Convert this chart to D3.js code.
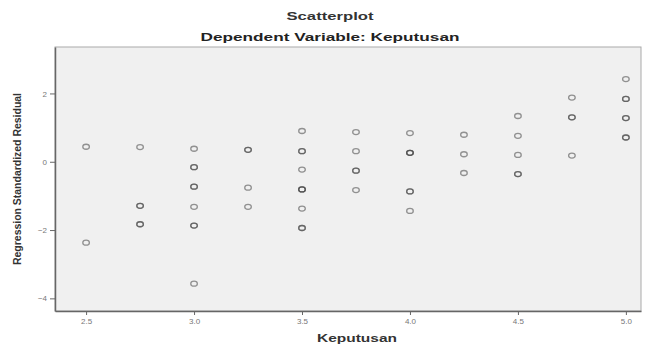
<!DOCTYPE html>
<html>
<head>
<meta charset="utf-8">
<script src="https://cdn.jsdelivr.net/npm/d3@7"></script>
<style>
  body { margin: 0; background: #fff; }
  text { font-family: "Liberation Sans", Arial, sans-serif; }
</style>
</head>
<body>
<div id="chart"></div>
<script>
// predicted values (x) and standardized residuals (y)
var keputusan = [
  2.5, 2.5,
  2.75, 2.75, 2.75,
  3.0, 3.0, 3.0, 3.0, 3.0, 3.0,
  3.25, 3.25, 3.25,
  3.5, 3.5, 3.5, 3.5, 3.5, 3.5,
  3.75, 3.75, 3.75, 3.75,
  4.0, 4.0, 4.0, 4.0,
  4.25, 4.25, 4.25,
  4.5, 4.5, 4.5, 4.5,
  4.75, 4.75, 4.75,
  5.0, 5.0, 5.0, 5.0
];
var residual = [
  0.44, -2.37,
  0.43, -1.29, -1.83,
  0.38, -0.16, -0.73, -1.32, -1.87, -3.57,
  0.35, -0.76, -1.32,
  0.90, 0.31, -0.23, -0.81, -1.37, -1.94,
  0.87, 0.31, -0.26, -0.83,
  0.84, 0.26, -0.87, -1.44,
  0.79, 0.22, -0.33,
  1.34, 0.76, 0.20, -0.36,
  1.88, 1.30, 0.18,
  2.42, 1.84, 1.28, 0.71
];
// number of cases sharing each point (darker marks)
var cases = [
  1, 1,
  1, 2, 2,
  1, 2, 2, 1, 2, 1,
  2, 1, 1,
  1, 2, 1, 3, 1, 2,
  1, 1, 2, 1,
  1, 3, 2, 1,
  1, 1, 1,
  1, 1, 1, 2,
  1, 2, 1,
  1, 2, 2, 2
];
var xTicks = [2.5, 3.0, 3.5, 4.0, 4.5, 5.0];
var yTicks = [2, 0, -2, -4];

var data = [];
keputusan.forEach(function (k, i) {
    for (var c = 0; c < cases[i]; c++) data.push({x: k, y: residual[i]});
});

var W = 647, H = 344;
var margin = {top: 47, right: 6, bottom: 33, left: 55},
    width = W - margin.left - margin.right,
    height = H - margin.top - margin.bottom;

var svg = d3.select('#chart').append('svg')
    .attr('width', W)
    .attr('height', H);

// titles
svg.append('text')
    .attr('x', 330).attr('y', 20)
    .attr('text-anchor', 'middle')
    .style('font-size', '11px').style('font-weight', 'bold').style('fill', '#333')
    .attr('textLength', 87).attr('lengthAdjust', 'spacingAndGlyphs')
    .text('Scatterplot');
svg.append('text')
    .attr('x', 330).attr('y', 41)
    .attr('text-anchor', 'middle')
    .style('font-size', '11px').style('font-weight', 'bold').style('fill', '#222')
    .attr('textLength', 259).attr('lengthAdjust', 'spacingAndGlyphs')
    .text('Dependent Variable: Keputusan');

var g = svg.append('g')
    .attr('transform', 'translate(' + margin.left + ',' + margin.top + ')');

var x = d3.scaleLinear().domain([2.356, 5.07]).range([0, width]);
var y = d3.scaleLinear().domain([-4.37, 3.36]).range([height, 0]);

// plot background
g.append('rect')
    .attr('width', width).attr('height', height)
    .attr('fill', '#f0f0f0')
    .attr('stroke', '#aaa');

// axes
var xAxis = g.append('g')
    .attr('transform', 'translate(0,' + height + ')')
    .call(d3.axisBottom(x).tickValues(xTicks).tickFormat(d3.format('.1f')).tickSize(4).tickSizeOuter(0));
var yAxis = g.append('g')
    .call(d3.axisLeft(y).tickValues(yTicks).tickFormat(d3.format('d')).tickSize(5).tickSizeOuter(0));

[xAxis, yAxis].forEach(function (a) {
    a.select('.domain').attr('stroke', '#666').attr('stroke-width', 1.5);
    a.selectAll('.tick line').attr('stroke', '#666');
    a.selectAll('.tick text').style('font-size', '8px').style('fill', '#777')
        .style('font-family', '"Liberation Sans", Arial, sans-serif');
});

// points
g.selectAll('ellipse.pt')
    .data(data)
    .enter().append('ellipse')
    .attr('class', 'pt')
    .attr('cx', function (d) { return x(d.x); })
    .attr('cy', function (d) { return y(d.y); })
    .attr('rx', 3.3)
    .attr('ry', 2.5)
    .attr('fill', 'none')
    .attr('stroke', '#444')
    .attr('stroke-opacity', 0.55)
    .attr('stroke-width', 1.3);

// axis labels
svg.append('text')
    .attr('x', 357).attr('y', 342)
    .attr('text-anchor', 'middle')
    .style('font-size', '11px').style('font-weight', 'bold').style('fill', '#333')
    .attr('textLength', 80).attr('lengthAdjust', 'spacingAndGlyphs')
    .text('Keputusan');
svg.append('text')
    .attr('transform', 'translate(21,179) rotate(-90)')
    .attr('text-anchor', 'middle')
    .style('font-size', '10px').style('font-weight', 'bold').style('fill', '#333')
    .attr('textLength', 172).attr('lengthAdjust', 'spacingAndGlyphs')
    .text('Regression Standardized Residual');
</script>
</body>
</html>
